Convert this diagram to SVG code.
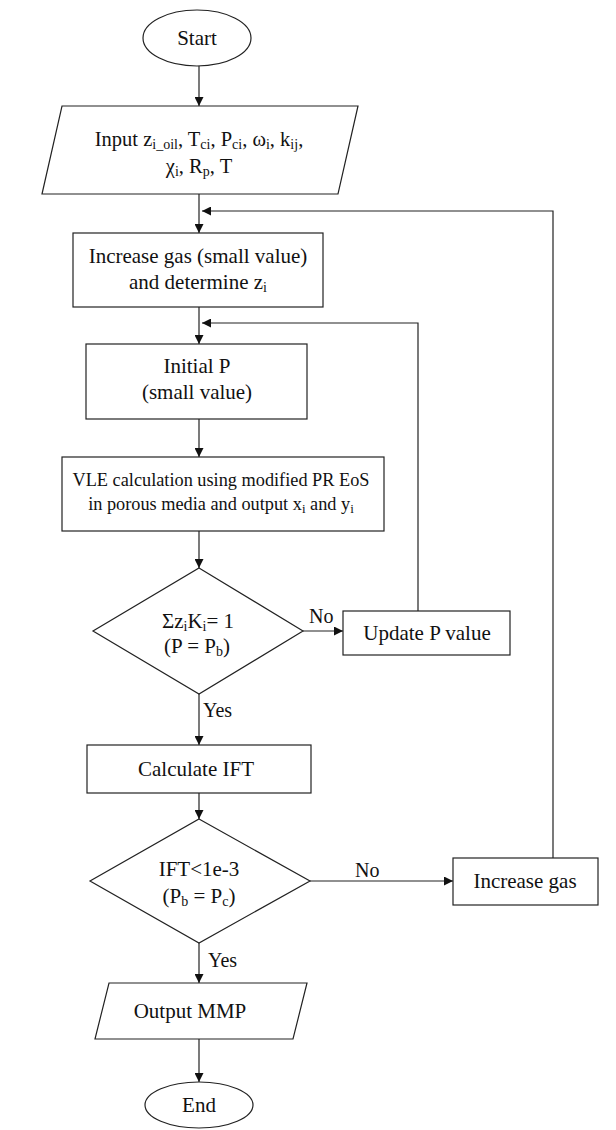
<svg xmlns="http://www.w3.org/2000/svg" width="616" height="1130" viewBox="0 0 616 1130">
<style>
.s{fill:#fff;stroke:#222;stroke-width:1.2}
.t{font-family:"Liberation Serif","Times New Roman",serif;font-size:21px;fill:#111;text-anchor:middle}
.l{font-family:"Liberation Serif","Times New Roman",serif;font-size:20px;fill:#111}
.c{fill:none;stroke:#222;stroke-width:1.2}
.sb{font-size:14px}
.in{font-size:20.5px}
.vle{font-size:18.3px}
.vle .sb{font-size:13px}
</style>
<defs>
<marker id="ah" viewBox="0 0 10 10" refX="10" refY="5" markerWidth="9" markerHeight="9" markerUnits="userSpaceOnUse" orient="auto">
<path d="M0,0 L10,5 L0,10 z" fill="#111"/>
</marker>
</defs>
<rect width="616" height="1130" fill="#fff"/>

<g id="connectors">
<line class="c" x1="199" y1="66" x2="199" y2="106" marker-end="url(#ah)"/>
<line class="c" x1="199" y1="194" x2="199" y2="233" marker-end="url(#ah)"/>
<line class="c" x1="199" y1="307" x2="199" y2="344" marker-end="url(#ah)"/>
<line class="c" x1="199" y1="419" x2="199" y2="457" marker-end="url(#ah)"/>
<line class="c" x1="199" y1="531" x2="199" y2="568" marker-end="url(#ah)"/>
<line class="c" x1="303" y1="631" x2="343" y2="631" marker-end="url(#ah)"/>
<polyline class="c" points="418,611 418,323 202,323" marker-end="url(#ah)"/>
<line class="c" x1="199" y1="694" x2="199" y2="745" marker-end="url(#ah)"/>
<line class="c" x1="199" y1="793" x2="199" y2="819" marker-end="url(#ah)"/>
<line class="c" x1="310" y1="881" x2="453" y2="881" marker-end="url(#ah)"/>
<polyline class="c" points="553,858 553,211 202,211" marker-end="url(#ah)"/>
<line class="c" x1="199" y1="943" x2="199" y2="983" marker-end="url(#ah)"/>
<line class="c" x1="199" y1="1039" x2="199" y2="1082" marker-end="url(#ah)"/>
<text class="l" x="309" y="623">No</text>
<text class="l" x="203" y="717">Yes</text>
<text class="l" x="355" y="877">No</text>
<text class="l" x="208" y="967">Yes</text>
</g>

<g id="start">
<ellipse class="s" cx="197" cy="38" rx="54" ry="28"/>
<text class="t" x="197" y="45">Start</text>
</g>

<g id="input">
<polygon class="s" points="62,106 358,106 338,194 42,194"/>
<text class="t in" x="199" y="146">Input z<tspan class="sb" dy="3">i_oil</tspan><tspan dy="-3">, T</tspan><tspan class="sb" dy="3">ci</tspan><tspan dy="-3">, P</tspan><tspan class="sb" dy="3">ci</tspan><tspan dy="-3">, ω</tspan><tspan class="sb" dy="3">i</tspan><tspan dy="-3">, k</tspan><tspan class="sb" dy="3">ij</tspan><tspan dy="-3">,</tspan></text>
<text class="t in" x="199" y="173">χ<tspan class="sb" dy="3">i</tspan><tspan dy="-3">, R</tspan><tspan class="sb" dy="3">p</tspan><tspan dy="-3">, T</tspan></text>
</g>

<g id="increase-gas-small">
<rect class="s" x="73" y="233" width="250" height="74"/>
<text class="t" x="198" y="263">Increase gas (small value)</text>
<text class="t" x="198" y="289">and determine z<tspan class="sb" dy="3">i</tspan></text>
</g>

<g id="initial-p">
<rect class="s" x="86" y="344" width="221" height="75"/>
<text class="t" x="197" y="373">Initial P</text>
<text class="t" x="197" y="399">(small value)</text>
</g>

<g id="vle">
<rect class="s" x="62" y="457" width="322" height="74"/>
<text class="t vle" x="221" y="486">VLE calculation using modified PR EoS</text>
<text class="t vle" x="221" y="510">in porous media and output x<tspan class="sb" dy="3">i</tspan><tspan dy="-3"> and y</tspan><tspan class="sb" dy="3">i</tspan></text>
</g>

<g id="decision-sum">
<polygon class="s" points="199,568 303,631 199,694 93,631"/>
<text class="t" x="198" y="628">Σz<tspan class="sb" dy="3">i</tspan><tspan dy="-3">K</tspan><tspan class="sb" dy="3">i</tspan><tspan dy="-3">= 1</tspan></text>
<text class="t" x="197" y="653">(P = P<tspan class="sb" dy="3">b</tspan><tspan dy="-3">)</tspan></text>
</g>

<g id="update-p">
<rect class="s" x="343" y="611" width="167" height="44"/>
<text class="t" x="427" y="640">Update P value</text>
</g>

<g id="calc-ift">
<rect class="s" x="87" y="745" width="224" height="48"/>
<text class="t" x="196" y="776">Calculate IFT</text>
</g>

<g id="decision-ift">
<polygon class="s" points="199,819 310,881 199,943 90,881"/>
<text class="t" x="199" y="876">IFT&lt;1e-3</text>
<text class="t" x="199" y="903">(P<tspan class="sb" dy="3">b</tspan><tspan dy="-3"> = P</tspan><tspan class="sb" dy="3">c</tspan><tspan dy="-3">)</tspan></text>
</g>

<g id="increase-gas">
<rect class="s" x="453" y="858" width="145" height="47"/>
<text class="t" x="525" y="888">Increase gas</text>
</g>

<g id="output">
<polygon class="s" points="109,983 307,983 293,1039 95,1039"/>
<text class="t" x="190" y="1018">Output MMP</text>
</g>

<g id="end">
<ellipse class="s" cx="199" cy="1105" rx="54" ry="23"/>
<text class="t" x="199" y="1112">End</text>
</g>
</svg>
